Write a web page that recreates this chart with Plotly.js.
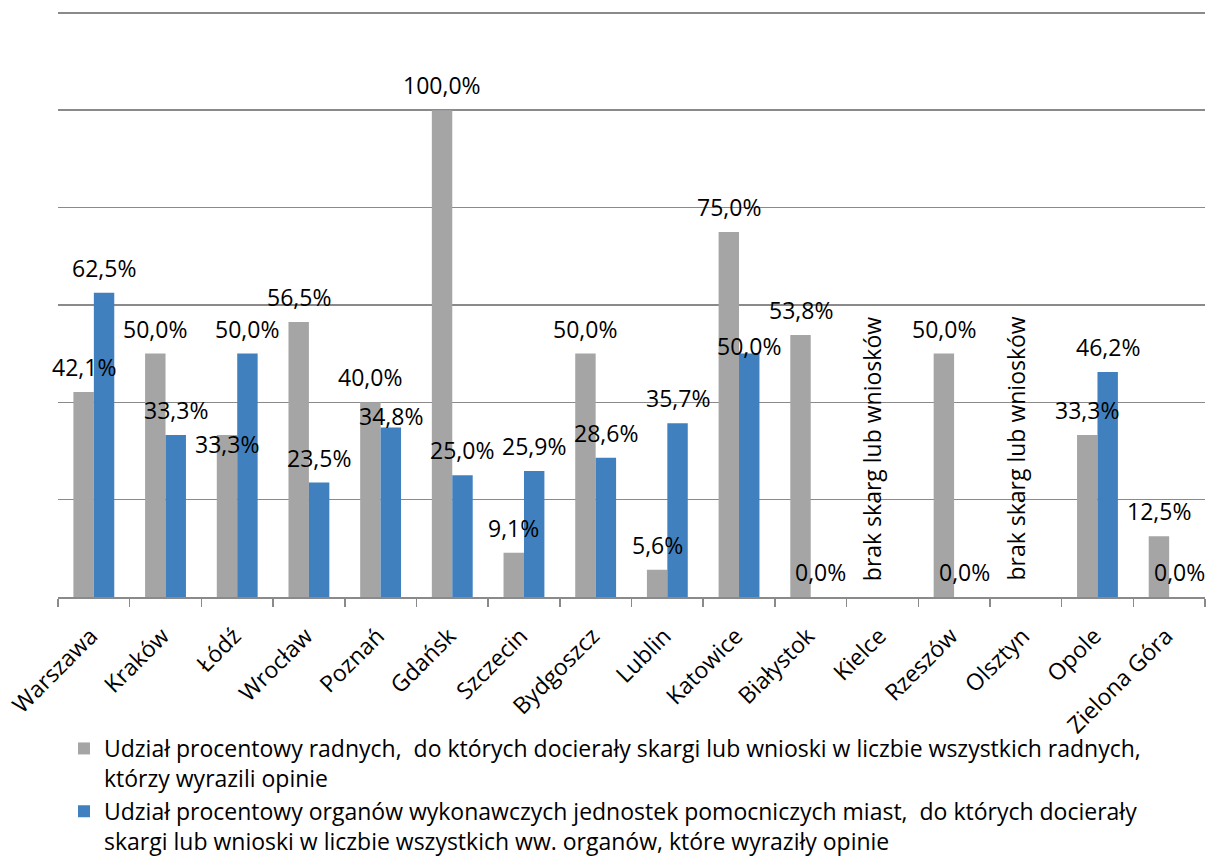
<!DOCTYPE html>
<html>
<head>
<meta charset="utf-8">
<script src="https://cdn.plot.ly/plotly-3.0.1.min.js"></script>
<style>html,body{margin:0;padding:0;background:#fff;}#chart{width:1207px;height:856px;}</style>
</head>
<body>
<div id="chart"></div>
<script>
const cities = ["Warszawa","Kraków","Łódź","Wrocław","Poznań","Gdańsk","Szczecin","Bydgoszcz","Lublin","Katowice","Białystok","Kielce","Rzeszów","Olsztyn","Opole","Zielona Góra"];
const radni = [42.1,50.0,33.3,56.5,40.0,100.0,9.1,50.0,5.6,75.0,53.8,null,50.0,null,33.3,12.5];
const organy = [62.5,33.3,50.0,23.5,34.8,25.0,25.9,28.6,35.7,50.0,0.0,null,0.0,null,46.2,0.0];
const noDataText = "brak skarg lub wniosków";
const seriesNames = [
  "Udział procentowy radnych,  do których docierały skargi lub wnioski w liczbie wszystkich radnych,<br>którzy wyrazili opinie",
  "Udział procentowy organów wykonawczych jednostek pomocniczych miast,  do których docierały<br>skargi lub wnioski w liczbie wszystkich ww. organów, które wyraziły opinie"
];

const W = 1207, H = 856;
const margin = {l:58, r:2, t:8, b:259};
const bargap = 0.43;
const plotW = W - margin.l - margin.r;
const plotH = H - margin.t - margin.b;
const catW = plotW / cities.length;
const barW = catW * (1 - bargap) / 2;
const FONT = "Open Sans, sans-serif";
const FS = 23;
const fmt = v => v.toFixed(1).replace(".", ",") + "%";

// label nudges (px) where the original labels sit off the default spot
const nudge = {"0-2": -34, "1-4": -13, "1-9": -17};

const annotations = [];
[radni, organy].forEach((vals, s) => {
  vals.forEach((v, i) => {
    const xs = (s === 0 ? -1 : 1) * barW / 2;
    if (v === null) {
      if (s === 0) {
        annotations.push({x: cities[i], y: 0, xref: "x", yref: "y", text: noDataText, showarrow: false,
          textangle: -90, xanchor: "center", yanchor: "bottom", xshift: xs, yshift: 14,
          font: {family: FONT, size: FS, color: "#000"}});
      }
      return;
    }
    annotations.push({x: cities[i], y: v, xref: "x", yref: "y", text: fmt(v), showarrow: false,
      xanchor: "center", yanchor: "middle", xshift: xs, yshift: 25 + (nudge[s + "-" + i] || 0),
      font: {family: FONT, size: FS, color: "#000"}});
  });
});

const traces = [
  {type: "bar", x: cities, y: radni, name: seriesNames[0], marker: {color: "#A5A5A5"}},
  {type: "bar", x: cities, y: organy, name: seriesNames[1], marker: {color: "#4080BF"}}
];

const layout = {
  width: W, height: H,
  margin: margin,
  paper_bgcolor: "#fff", plot_bgcolor: "#fff",
  barmode: "group", bargap: bargap, bargroupgap: 0,
  font: {family: FONT, size: FS, color: "#000"},
  xaxis: {type: "category", range: [-0.5, cities.length - 0.5], autorange: false,
    showline: true, linecolor: "#8a8a8a", linewidth: 1.5,
    ticks: "outside", tickson: "boundaries", ticklen: 8, tickcolor: "#8a8a8a", tickwidth: 1.5,
    tickangle: -45, ticklabelstandoff: 15, ticklabelshift: -3,
    tickfont: {family: FONT, size: FS, color: "#000"},
    showgrid: false, fixedrange: true, automargin: false},
  yaxis: {range: [0, 121], autorange: false, tickmode: "linear", tick0: 0, dtick: 20, showticklabels: false, showgrid: true,
    gridcolor: "#8a8a8a", gridwidth: 1.5, zeroline: false, showline: false, ticks: "", fixedrange: true,
    automargin: false},
  showlegend: true,
  legend: {orientation: "v", xref: "paper", yref: "container", x: 6 / plotW, y: (H - 727) / H,
    xanchor: "left", yanchor: "top", valign: "top",
    font: {family: FONT, size: FS, color: "#000"}, bgcolor: "rgba(0,0,0,0)", tracegroupgap: 0},
  annotations: annotations
};

Plotly.newPlot("chart", traces, layout, {displayModeBar: false, staticPlot: true});
</script>
</body>
</html>
